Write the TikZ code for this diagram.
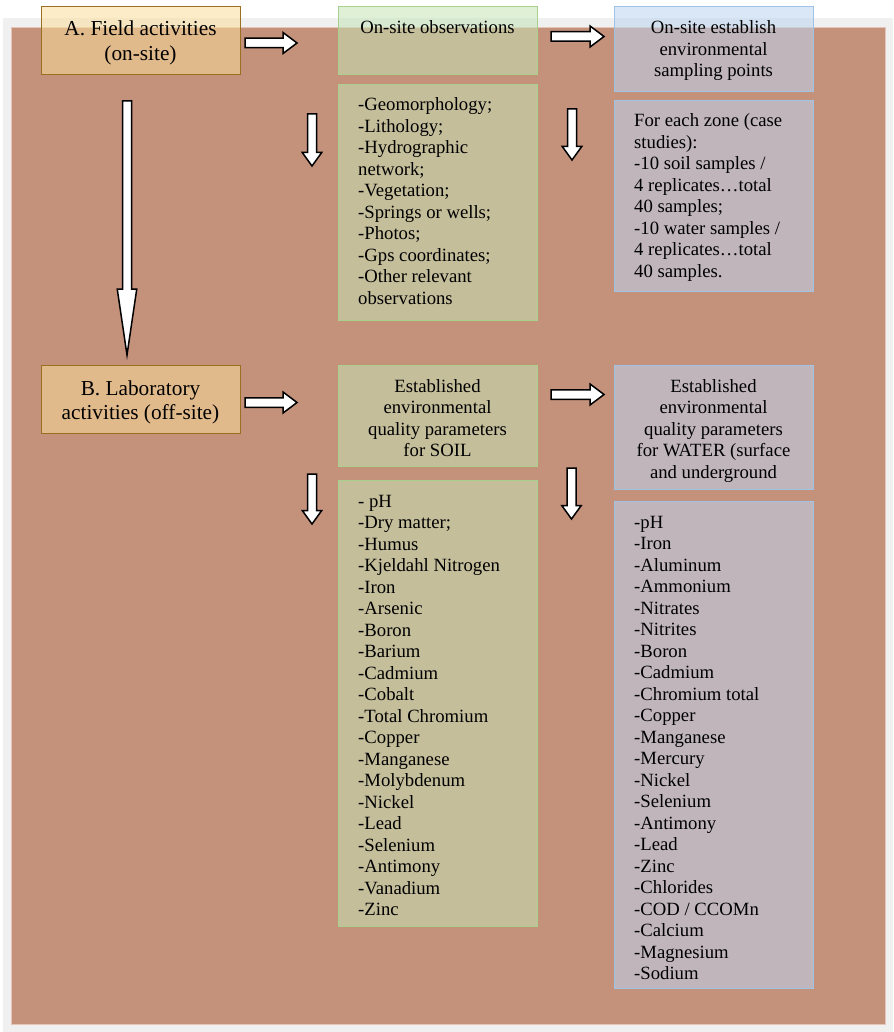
\documentclass[tikz,border=0pt]{standalone}
\usepackage{fontspec}
\setmainfont{Liberation Serif}

\definecolor{pagegray}{HTML}{F0F0F0}
\definecolor{panel}{HTML}{C4917B}
\definecolor{panelrim}{HTML}{E3C6B8}
\definecolor{orangefill}{RGB}{250,221,155}
\definecolor{orangerim}{HTML}{9A7020}
\definecolor{greenfill}{RGB}{196,228,183}
\definecolor{greenrim}{HTML}{A9D18E}
\definecolor{bluefill}{RGB}{187,211,240}
\definecolor{bluerim}{HTML}{9DC3E6}

% rows of text stacked with the first baseline as reference
\newcommand\boxlines[2]{\begin{tabular}[t]{@{}#1@{}}#2\end{tabular}}

% block arrow pointing right: tail x, tip x, centre y, half shaft, half head, head length
\newcommand\rightblock[6]{%
  \draw[blockarrow] (#1,{#3-#4}) -- ({#2-#6},{#3-#4}) -- ({#2-#6},{#3-#5})
    -- (#2,#3) -- ({#2-#6},{#3+#5}) -- ({#2-#6},{#3+#4}) -- (#1,{#3+#4}) -- cycle;}
% block arrow pointing down: centre x, tail y, tip y, half shaft, half head, head length
\newcommand\downblock[6]{%
  \draw[blockarrow] ({#1-#4},#2) -- ({#1-#4},{#3-#6}) -- ({#1-#5},{#3-#6})
    -- (#1,#3) -- ({#1+#5},{#3-#6}) -- ({#1+#4},{#3-#6}) -- ({#1+#4},#2) -- cycle;}

\tikzset{
  box/.style={rectangle, anchor=north west, inner sep=0pt, line width=1pt,
    fill opacity=0.55, minimum width=199pt},
  stagebox/.style={box, draw=orangerim, fill=orangefill},
  fieldbox/.style={box, draw=greenrim, fill=greenfill},
  labbox/.style={box, draw=bluerim, fill=bluefill},
  headtext/.style={anchor=base, inner sep=0pt, font=\fontsize{21.3}{24.5}\selectfont},
  bodytext/.style={anchor=base, inner sep=0pt, font=\fontsize{18.7}{21.5}\selectfont},
  listtext/.style={anchor=base west, inner sep=0pt, font=\fontsize{18.7}{21.5}\selectfont},
  blockarrow/.style={draw=black, fill=white, line width=1.5pt, line join=miter},
}

\begin{document}
\begin{tikzpicture}[x=1pt,y=-1pt]
  \useasboundingbox (0,0) rectangle (893,1032);

  % frame and panel
  \fill[pagegray] (3,18) rectangle (893,1032);
  \draw[panelrim, fill=panel, line width=0.8pt] (11,27) rectangle (885,1024);

  % boxes
  \node[stagebox, minimum height=68pt]  (A)     at (41,6)    {};
  \node[fieldbox, minimum height=68pt]  (obs)   at (338,6)   {};
  \node[labbox,   minimum height=85pt]  (est)   at (614,6)   {};
  \node[fieldbox, minimum height=236pt] (geo)   at (338,84)  {};
  \node[labbox,   minimum height=191pt] (zone)  at (614,100) {};
  \node[stagebox, minimum height=68pt]  (B)     at (41,365)  {};
  \node[fieldbox, minimum height=101pt] (soil)  at (338,365) {};
  \node[labbox,   minimum height=124pt] (water) at (614,365) {};
  \node[fieldbox, minimum height=446pt] (soillist)  at (338,480) {};
  \node[labbox,   minimum height=487pt] (waterlist) at (614,501) {};

  % texts
  \node[headtext] (A-t) at (140.5,36) {\boxlines{c}{A. Field activities\\(on-site)}};
  \node[headtext] (B-t) at (140.5,395) {\boxlines{c}{B. Laboratory\\activities (off-site)}};
  \node[bodytext] (obs-t) at (437.5,34) {\boxlines{c}{On-site observations}};
  \node[bodytext] (est-t) at (713.5,34) {\boxlines{c}{On-site establish\\environmental\\sampling points}};
  \node[listtext] (geo-t) at (358,111) {\boxlines{l}{-Geomorphology;\\-Lithology;\\-Hydrographic\\network;\\-Vegetation;\\-Springs or wells;\\-Photos;\\-Gps coordinates;\\-Other relevant\\observations}};
  \node[listtext] (zone-t) at (634,127) {\boxlines{l}{For each zone (case\\studies):\\-10 soil samples /\\4 replicates…total\\40 samples;\\-10 water samples /\\4 replicates…total\\40 samples.}};
  \node[bodytext] (soil-t) at (437.5,392) {\boxlines{c}{Established\\environmental\\quality parameters\\for SOIL}};
  \node[bodytext] (water-t) at (713.5,392) {\boxlines{c}{Established\\environmental\\quality parameters\\for WATER (surface\\and underground}};
  \node[listtext] (soillist-t) at (358,507) {\boxlines{l}{- pH\\-Dry matter;\\-Humus\\-Kjeldahl Nitrogen\\-Iron\\-Arsenic\\-Boron\\-Barium\\-Cadmium\\-Cobalt\\-Total Chromium\\-Copper\\-Manganese\\-Molybdenum\\-Nickel\\-Lead\\-Selenium\\-Antimony\\-Vanadium\\-Zinc}};
  \node[listtext] (waterlist-t) at (634,528) {\boxlines{l}{-pH\\-Iron\\-Aluminum\\-Ammonium\\-Nitrates\\-Nitrites\\-Boron\\-Cadmium\\-Chromium total\\-Copper\\-Manganese\\-Mercury\\-Nickel\\-Selenium\\-Antimony\\-Lead\\-Zinc\\-Chlorides\\-COD / CCOMn\\-Calcium\\-Magnesium\\-Sodium}};

  % block arrows between the stages
  \rightblock{245}{297}{43}{4.75}{10.5}{14}
  \rightblock{551}{604}{36.5}{4.75}{10.5}{14}
  \rightblock{245}{297}{402.5}{4.75}{10.5}{14}
  \rightblock{551}{604}{394.5}{4.75}{10.5}{14}
  \downblock{312}{114}{166}{4.5}{9.75}{13.5}
  \downblock{572}{109}{160}{4.5}{9.75}{13.5}
  \downblock{312}{474}{524}{4.5}{9.75}{13.5}
  \downblock{571.5}{468}{519}{4.5}{9.75}{13.5}
  \downblock{127}{101}{355}{4.5}{9.75}{66}
\end{tikzpicture}
\end{document}
